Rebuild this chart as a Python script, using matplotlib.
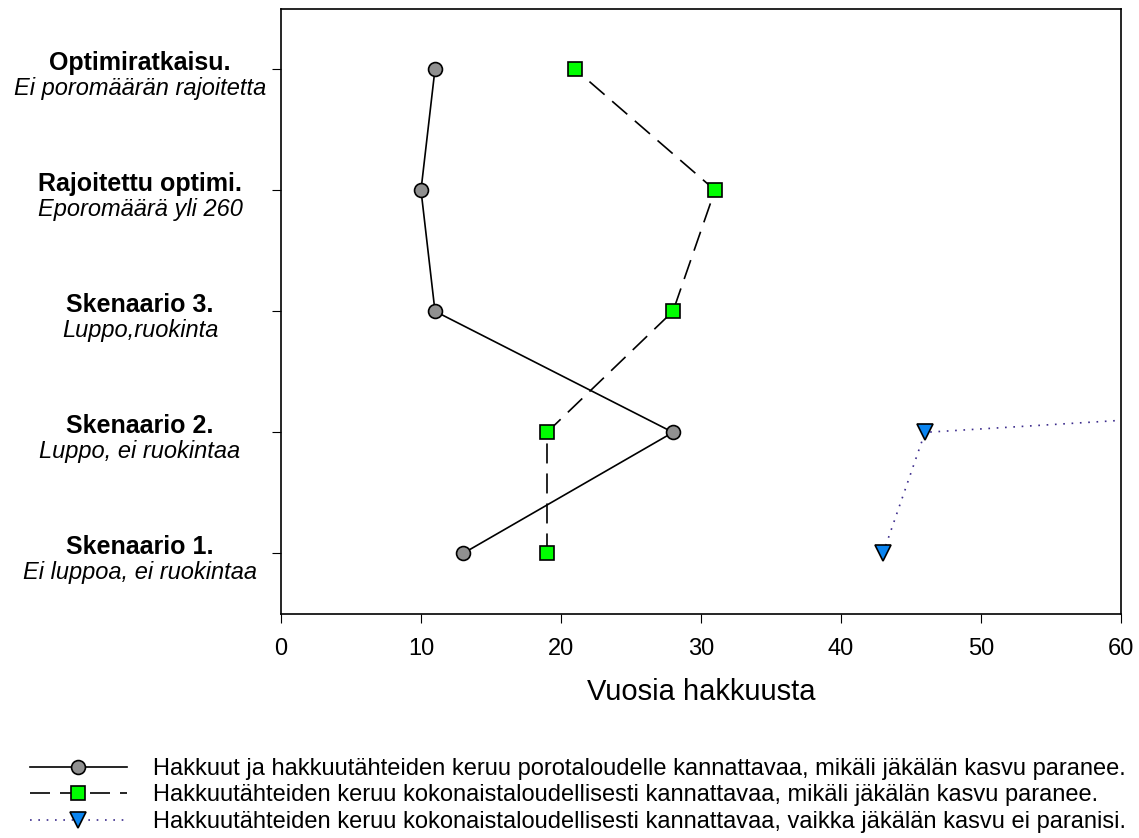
import numpy as np
import matplotlib.pyplot as plt
from matplotlib.transforms import blended_transform_factory

plt.rcParams['font.family'] = ['Liberation Sans', 'DejaVu Sans']

# kategoriat alhaalta ylös
cat_bold = ["Skenaario 1.", "Skenaario 2.", "Skenaario 3.",
            "Rajoitettu optimi.", "Optimiratkaisu."]
cat_italic = ["Ei luppoa, ei ruokintaa", "Luppo, ei ruokintaa",
              "Luppo,ruokinta", "Eporomäärä yli 260",
              "Ei poromäärän rajoitetta"]

hakkuut = [13, 28, 11, 10, 11]
keruu_kok = [19, 19, 28, 31, 21]
keruu_ei = [43, 46, 187, np.nan, np.nan]

labels = [
    "Hakkuut ja hakkuutähteiden keruu porotaloudelle kannattavaa, mikäli jäkälän kasvu paranee.",
    "Hakkuutähteiden keruu kokonaistaloudellisesti kannattavaa, mikäli jäkälän kasvu paranee.",
    "Hakkuutähteiden keruu kokonaistaloudellisesti kannattavaa, vaikka jäkälän kasvu ei paranisi.",
]


def main():
    fig = plt.figure(figsize=(11.39, 8.38), dpi=100)
    ax = fig.add_axes([0.2467, 0.2673, 0.7375, 0.7225])
    y = np.arange(len(cat_bold))

    l1, = ax.plot(hakkuut, y, color="black", lw=1.2, marker="o",
                  ms=10, mfc="#909090", mec="black", mew=1.2)
    l2, = ax.plot(keruu_kok, y, color="black", lw=1.2, ls=(0, (12, 6)),
                  marker="s", ms=9.5, mfc="#00ff00", mec="black", mew=1.2)
    l3, = ax.plot(keruu_ei, y, color="#3c2c8c", lw=1.2, ls=(0, (1, 4)),
                  marker="v", ms=11, mfc="#0a84f0", mec="black", mew=1.2)

    ax.set_xlim(0, 60)
    ax.set_ylim(-0.5, 4.5)
    ax.set_xticks(range(0, 61, 10))
    ax.set_yticks(y)
    ax.set_yticklabels([])
    ax.tick_params(axis="x", labelsize=17, length=6.5, direction="out", pad=11)
    ax.tick_params(axis="y", length=6.5, direction="out")
    for s in ax.spines.values():
        s.set_linewidth(1.2)
    ax.set_xlabel("Vuosia hakkuusta", fontsize=21, labelpad=13)

    # kaksirivinen kategoriateksti
    tr = blended_transform_factory(fig.transFigure, ax.transData)
    for i in range(len(cat_bold)):
        ax.text(140 / 1139, i - 0.008, cat_bold[i], transform=tr, ha="center",
                va="baseline", fontsize=18, fontweight="bold")
        ax.text(140 / 1139, i - 0.215, cat_italic[i], transform=tr, ha="center",
                va="baseline", fontsize=17, style="italic")

    fig.legend([l1, l2, l3], labels, loc="upper left",
               bbox_to_anchor=(30 / 1139, 1 - 758 / 838), frameon=False,
               fontsize=17, handlelength=4.1, handletextpad=1.1,
               labelspacing=0.19, borderaxespad=0, borderpad=0)

    fig.savefig("out.png", dpi=100)


if __name__ == "__main__":
    main()
